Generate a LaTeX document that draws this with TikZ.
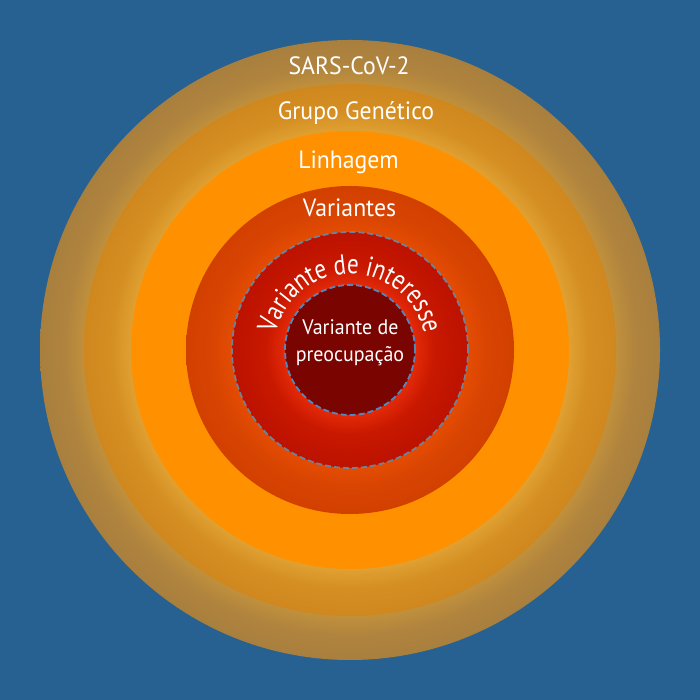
\documentclass[tikz,border=0pt]{standalone}
\usepackage{fontspec}
\setmainfont[FakeStretch=0.95]{PT Sans}
\newfontfamily\curvefam[FakeStretch=0.82]{PT Sans}
\usetikzlibrary{decorations.text}
\definecolor{bgblue}{HTML}{266192}
\definecolor{oA}{HTML}{C0903C}
\definecolor{oB}{HTML}{B0843E}
\definecolor{oC}{HTML}{A97F3E}
\definecolor{gA}{HTML}{E0A032}
\definecolor{gB}{HTML}{D48E22}
\definecolor{gC}{HTML}{D0881E}
\definecolor{linh}{HTML}{FF9000}
\definecolor{vA}{HTML}{E44C02}
\definecolor{vB}{HTML}{D84402}
\definecolor{vC}{HTML}{D24000}
\definecolor{iA}{HTML}{E42A08}
\definecolor{iB}{HTML}{C81800}
\definecolor{iC}{HTML}{BC1200}
\definecolor{preoc}{HTML}{7A0400}
\definecolor{dashA}{HTML}{6F8298}
\definecolor{dashB}{HTML}{5288C0}
\pgfdeclareradialshading{ringouter}{\pgfpoint{0bp}{0bp}}{color(0bp)=(oA); color(21.45bp)=(oA); color(23bp)=(oB); color(25bp)=(oC); color(50bp)=(oC)}
\pgfdeclareradialshading{ringgrupo}{\pgfpoint{0bp}{0bp}}{color(0bp)=(gA); color(20.6bp)=(gA); color(22.5bp)=(gB); color(25bp)=(gC); color(50bp)=(gC)}
\pgfdeclareradialshading{ringvar}{\pgfpoint{0bp}{0bp}}{color(0bp)=(vA); color(18bp)=(vA); color(21bp)=(vB); color(25bp)=(vC); color(50bp)=(vC)}
\pgfdeclareradialshading{ringint}{\pgfpoint{0bp}{0bp}}{color(0bp)=(iA); color(13.75bp)=(iA); color(18bp)=(iB); color(25bp)=(iC); color(50bp)=(iC)}
\newcommand{\labelfont}{\fontsize{25}{30}\selectfont}
\newcommand{\curvefont}{\curvefam\fontsize{28}{32}\selectfont}
\newcommand{\innerfont}{\fontsize{21}{27}\selectfont}
\tikzset{
  ringlabel/.style={text=white, anchor=base, inner sep=0pt, font=\labelfont},
  innerlabel/.style={text=white, anchor=base, inner sep=0pt, font=\innerfont},
  dashring/.style={line width=1.8pt, dash pattern=on 6pt off 3pt}
}
\begin{document}
\begin{tikzpicture}[x=1pt,y=1pt]
\useasboundingbox (0,0) rectangle (700,700);
\fill[bgblue] (0,0) rectangle (700,700);
\coordinate (c) at (350,350);
\shade[shading=ringouter] (c) circle[radius=310];
\shade[shading=ringgrupo] (c) circle[radius=266];
\fill[linh] (c) circle[radius=219];
\shade[shading=ringvar] (c) circle[radius=164];
\shade[shading=ringint] (c) circle[radius=118];
\draw[dashring, draw=dashA] (c) circle[radius=118];
\fill[preoc] (c) circle[radius=65];
\draw[dashring, draw=dashB] (c) circle[radius=65];
\node[ringlabel] (sars) at (349,625) {SARS-CoV-2};
\node[ringlabel] (grupo) at (356,580) {Grupo Genético};
\node[ringlabel] (linhagem) at (348.5,531) {Linhagem};
\node[ringlabel] (variantes) at (349.5,483) {Variantes};
\path[decorate, decoration={text along path, text color=white, text align=center,
  text={|\curvefont|Variante de interesse}}]
  (c) ++(178:76) arc[start angle=178, end angle=2, radius=76];
\node[innerlabel] (voc1) at (350.5,365) {Variante de};
\node[innerlabel] (voc2) at (350,338) {preocupação};
\end{tikzpicture}
\end{document}
